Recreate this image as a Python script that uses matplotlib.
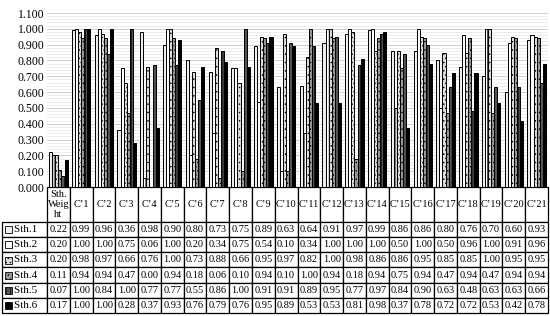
import numpy as np
import matplotlib.pyplot as plt
from matplotlib.patches import Rectangle

plt.rcParams['font.family'] = ['Liberation Serif', 'DejaVu Serif']

cats = ['Sth.\nWeig\nht'] + ["C\u2019%d" % i for i in range(1, 22)]
series = ['Sth.1', 'Sth.2', 'Sth.3', 'Sth.4', 'Sth.5', 'Sth.6']

sth1 = [0.22, 0.99, 0.96, 0.36, 0.98, 0.90, 0.80, 0.73, 0.75, 0.89, 0.63,
        0.64, 0.91, 0.97, 0.99, 0.86, 0.86, 0.80, 0.76, 0.70, 0.60, 0.93]
sth2 = [0.20, 1.00, 1.00, 0.75, 0.06, 1.00, 0.20, 0.34, 0.75, 0.54, 0.10,
        0.34, 1.00, 1.00, 1.00, 0.50, 1.00, 0.50, 0.96, 1.00, 0.91, 0.96]
sth3 = [0.20, 0.98, 0.97, 0.66, 0.76, 1.00, 0.73, 0.88, 0.66, 0.95, 0.97,
        0.82, 1.00, 0.98, 0.86, 0.86, 0.95, 0.85, 0.85, 1.00, 0.95, 0.95]
sth4 = [0.11, 0.94, 0.94, 0.47, 0.00, 0.94, 0.18, 0.06, 0.10, 0.94, 0.10,
        1.00, 0.94, 0.18, 0.94, 0.75, 0.94, 0.47, 0.94, 0.47, 0.94, 0.94]
sth5 = [0.07, 1.00, 0.84, 1.00, 0.77, 0.77, 0.55, 0.86, 1.00, 0.91, 0.91,
        0.89, 0.95, 0.77, 0.97, 0.84, 0.90, 0.63, 0.48, 0.63, 0.63, 0.66]
sth6 = [0.17, 1.00, 1.00, 0.28, 0.37, 0.93, 0.76, 0.79, 0.76, 0.95, 0.89,
        0.53, 0.53, 0.81, 0.98, 0.37, 0.78, 0.72, 0.72, 0.53, 0.42, 0.78]
values = [sth1, sth2, sth3, sth4, sth5, sth6]

styles = [
    dict(facecolor='#eeeeee', hatch=None),
    dict(facecolor='white', hatch='||'),
    dict(facecolor='#dddddd', hatch='....'),
    dict(facecolor='#999999', hatch='....'),
    dict(facecolor='#555555', hatch='||||'),
    dict(facecolor='black', hatch=None),
]

plt.rcParams['hatch.linewidth'] = 0.5

fig = plt.figure(figsize=(5.5, 3.16), dpi=100)
ax = fig.add_axes([47/550, 1 - 187/316, 501/550, 174/316])

x = np.arange(len(cats))
w = 0.135
for k, (vals, st) in enumerate(zip(values, styles)):
    ax.bar(x + (k - 2.5)*w, vals, w, edgecolor='black', linewidth=0.7,
           zorder=3, **st)

ax.set_xlim(-0.5, len(cats) - 0.5)
ax.set_ylim(0, 1.1)
ax.set_yticks(np.arange(0, 1.101, 0.1))
ax.set_yticklabels(['%.3f' % v for v in np.arange(0, 1.101, 0.1)], fontsize=8.5)
ax.set_yticks(np.arange(0, 1.101, 0.02), minor=True)
ax.grid(axis='y', which='major', color='#c8c8c8', linewidth=0.6, zorder=0)
ax.grid(axis='y', which='minor', color='#e6e6e6', linewidth=0.5, zorder=0)
ax.tick_params(axis='y', which='both', length=0, pad=2)
ax.set_xticks([])
for s in ax.spines.values():
    s.set_visible(False)

# data table under the bars
cell_text = []
for name, vals in zip(series, values):
    cell_text.append(['    ' + name] + ['%.2f' % v for v in vals])
tbl = ax.table(cellText=cell_text, colLabels=[''] + cats, cellLoc='center',
               bbox=[(2 - 47)/501, -126/174, 546/501, 126/174])
tbl.auto_set_font_size(False)
tbl.set_fontsize(7.5)
for (r, c), cell in tbl.get_celld().items():
    cell.set_linewidth(0.9)
    cell.set_width(45 if c == 0 else 22.77)
    cell.set_height(35 if r == 0 else 15.2)
    cell.PAD = 0.02
    if r == 0 and c == 0:
        cell.set_edgecolor('none')
    if c == 0 and r > 0:
        cell.get_text().set_ha('left')
        cell._loc = 'left'
        cell.get_text().set_fontsize(8)

# legend keys in the row label cells
for k, st in enumerate(styles):
    yc = 187 + 35 + 15.2*(k + 0.5)
    ax.add_patch(Rectangle(((5 - 47)/501, (187 - yc - 3.5)/174), 7/501, 7/174,
                           transform=ax.transAxes, clip_on=False,
                           edgecolor='black', linewidth=0.6, **st))

fig.savefig('out.png', dpi=100)
